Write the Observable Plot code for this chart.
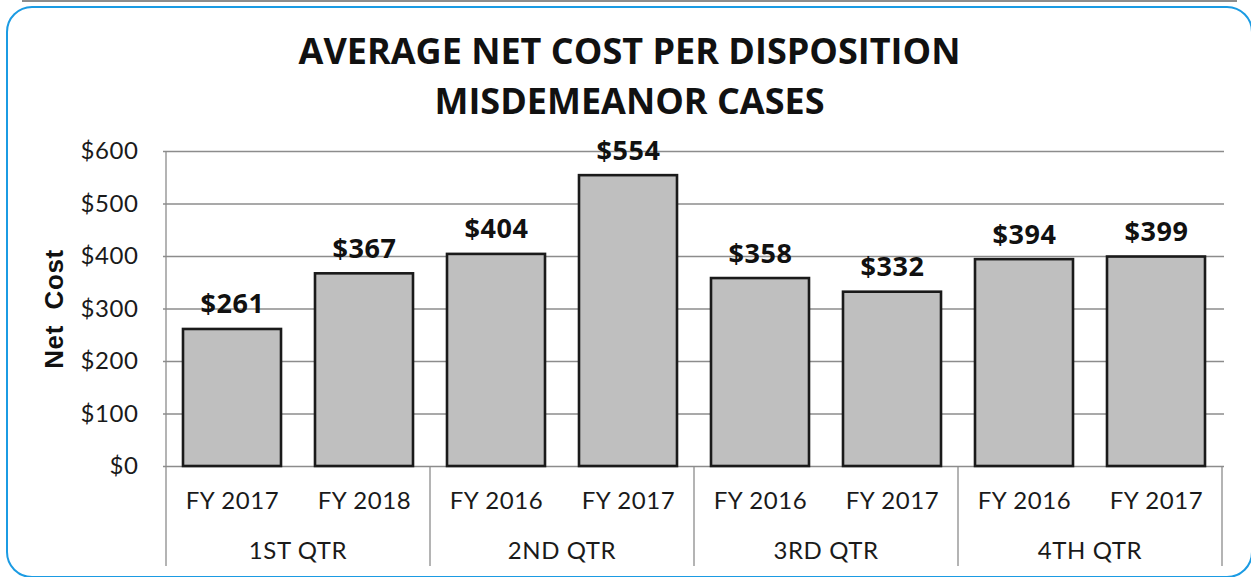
<!DOCTYPE html>
<html>
<head>
<meta charset="utf-8">
<script src="https://cdn.jsdelivr.net/npm/d3@7"></script>
<script src="https://cdn.jsdelivr.net/npm/@observablehq/plot@0.6"></script>
<style>
  html, body { margin: 0; padding: 0; background: #fff; }
  #wrap { position: relative; width: 1251px; height: 577px; overflow: hidden; background: #fff; }
  #topline { position: absolute; left: 22px; top: 0; width: 1215px; height: 2px; background: #8c8c8c; }
  #box { position: absolute; left: 6px; top: 6px; width: 1243px; height: 568px; border: 2px solid #1b9be3; border-radius: 26px; pointer-events: none; z-index: 2; }
  #title { height: 125px; box-sizing: border-box; padding-top: 26px; padding-left: 8px; text-align: center;
           font-family: "Open Sans", sans-serif; font-weight: 700; font-size: 36px; line-height: 50px; color: #111; }
  #chart svg { display: block; }
</style>
</head>
<body>
<div id="wrap">
  <div id="topline"></div>
  <div id="box"></div>
  <div id="title">AVERAGE NET COST PER DISPOSITION<br>MISDEMEANOR CASES</div>
  <div id="chart"></div>
</div>
<script>
const quarters = ["1ST QTR", "1ST QTR", "2ND QTR", "2ND QTR", "3RD QTR", "3RD QTR", "4TH QTR", "4TH QTR"];
const years = ["FY 2017", "FY 2018", "FY 2016", "FY 2017", "FY 2016", "FY 2017", "FY 2016", "FY 2017"];
const costs = [261, 367, 404, 554, 358, 332, 394, 399];
const yTicks = [0, 100, 200, 300, 400, 500, 600];
const yLabel = "Net\u00a0 Cost";

const data = costs.map((v, i) => ({key: quarters[i] + "|" + years[i], quarter: quarters[i], year: years[i], value: v}));
const keys = data.map(d => d.key);

const W = 1251, H = 452;
const plot = Plot.plot({
  width: W,
  height: H,
  marginLeft: 163,
  marginRight: 27,
  marginTop: 26,
  marginBottom: 111,
  style: {fontFamily: "Lato, sans-serif", fontSize: "24px", fontWeight: 400, letterSpacing: "0.6px", color: "#1a1a1a", background: "transparent", overflow: "visible"},
  x: {domain: keys, paddingInner: 0.26, paddingOuter: 0.12, tickFormat: d => d.split("|")[1], tickSize: 0, tickPadding: 25, label: null},
  y: {domain: [0, 600], ticks: yTicks, tickFormat: d => "$" + d, tickSize: 0, tickPadding: 25, label: null},
  marks: [
    Plot.ruleY(yTicks, {stroke: "#8c8c8c", strokeWidth: 1.3}),
    Plot.barY(data, {x: "key", y: "value", fill: "#bfbfbf", stroke: "#1a1a1a", strokeWidth: 2.6}),
    Plot.text(data, {x: "key", y: "value", text: d => "$" + d.value, lineAnchor: "bottom", dy: -16,
      fontFamily: "Open Sans, sans-serif", fontWeight: 700, fontSize: 27, fill: "#111"}),
    Plot.text([yLabel], {frameAnchor: "left", text: d => d, rotate: -90, dx: -109, lineAnchor: "middle", textAnchor: "middle",
      fontFamily: "Liberation Sans, Arial, sans-serif", fontWeight: 700, fontSize: 26, fill: "#111"})
  ]
});
document.getElementById("chart").appendChild(plot);

// group separators and quarter labels, placed through Plot's own scales
const xs = plot.scale("x");
const ys = plot.scale("y");
const gap = (xs.step - xs.bandwidth) / 2;
const y0 = ys.apply(0), yTop = ys.apply(600);
const yBottom = H - 11;
const groups = d3.groups(data, d => d.quarter);
const svg = d3.select(plot);
const g = svg.append("g");
groups.forEach(([q, rows], i) => {
  const left = xs.apply(rows[0].key) - gap;
  const right = xs.apply(rows[rows.length - 1].key) + xs.bandwidth + gap;
  g.append("line").attr("x1", left).attr("x2", left).attr("y1", i === 0 ? yTop : y0).attr("y2", yBottom)
    .attr("stroke", "#8c8c8c").attr("stroke-width", 1.3);
  if (i === groups.length - 1) {
    g.append("line").attr("x1", right).attr("x2", right).attr("y1", y0).attr("y2", yBottom)
      .attr("stroke", "#8c8c8c").attr("stroke-width", 1.3);
  }
  g.append("text").attr("x", (left + right) / 2).attr("y", y0 + 93).attr("text-anchor", "middle")
    .attr("font-family", "Lato, sans-serif").attr("font-weight", 400).attr("letter-spacing", "0.6px")
    .attr("font-size", 24).attr("fill", "#1a1a1a").text(q);
});
</script>
</body>
</html>
